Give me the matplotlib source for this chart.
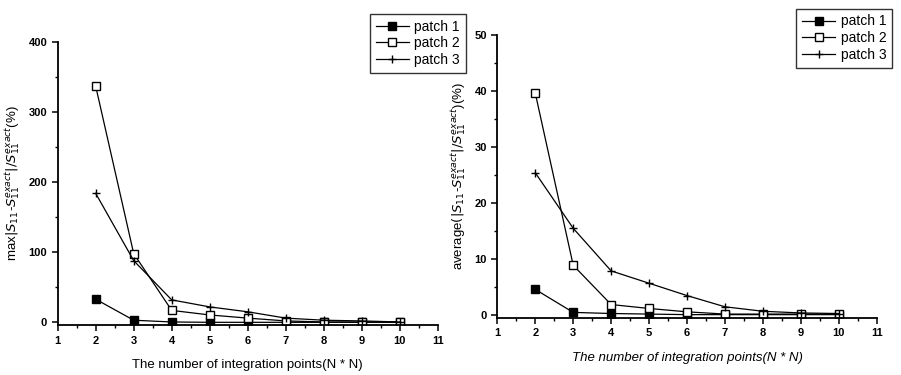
import matplotlib.pyplot as plt
from matplotlib.ticker import MultipleLocator

## data
n_points = [2, 3, 4, 5, 6, 7, 8, 9, 10]

# max relative error (%)
max_p1 = [33, 3, 0.5, 0, 0, 0, 0, 0, 0]
max_p2 = [337, 98, 17, 10.5, 6, 2, 0.5, 0.5, 0.5]
max_p3 = [184, 88, 32, 22, 15, 6, 3, 2, 0.5]

# average relative error (%)
avg_p1 = [4.6, 0.5, 0.3, 0.2, 0.1, 0.1, 0.1, 0.1, 0.1]
avg_p2 = [39.6, 8.9, 1.9, 1.2, 0.6, 0.2, 0.2, 0.2, 0.2]
avg_p3 = [25.4, 15.5, 7.9, 5.7, 3.5, 1.5, 0.7, 0.4, 0.3]

labels = ['patch 1', 'patch 2', 'patch 3']
xticks = list(range(1, 12))

plt.rcParams['font.family'] = ['Liberation Sans', 'DejaVu Sans']

fig = plt.figure(figsize=(9.01, 3.75), dpi=100)
ax1 = fig.add_axes([0.064, 0.133, 0.422, 0.755])
ax2 = fig.add_axes([0.552, 0.152, 0.421, 0.755])

styles = [dict(marker='s', mfc='black', mec='black', ms=5.5),
          dict(marker='s', mfc='white', mec='black', ms=6),
          dict(marker='+', mec='black', ms=6)]

def draw(ax, series, ymax, ymin, ystep, ylabel, xlabel_style):
    for vals, lab, st in zip(series, labels, styles):
        ax.plot(n_points, vals, color='black', lw=0.9, label=lab, **st)
    ax.set_xlim(1, 11)
    ax.set_ylim(ymin, ymax)
    ax.set_xticks(xticks)
    ax.xaxis.set_minor_locator(MultipleLocator(0.5))
    ax.yaxis.set_major_locator(MultipleLocator(ystep))
    ax.yaxis.set_minor_locator(MultipleLocator(ystep / 2))
    ax.spines['top'].set_visible(False)
    ax.spines['right'].set_visible(False)
    ax.spines['left'].set_linewidth(1.3)
    ax.spines['bottom'].set_linewidth(1.3)
    ax.tick_params(which='major', length=4, width=1.1, labelsize=8)
    ax.tick_params(which='minor', length=2.5, width=1)
    for t in ax.get_xticklabels() + ax.get_yticklabels():
        t.set_fontweight('bold')
    ax.set_ylabel(ylabel, fontsize=9.5)
    ax.set_xlabel('The number of integration points(N * N)', fontsize=9.5,
                  style=xlabel_style, labelpad=10)
    return ax

draw(ax1, [max_p1, max_p2, max_p3], 400, -4, 100,
     r'max$|S_{11}$-$S_{11}^{exact}|/S_{11}^{exact}$(%)', 'normal')
draw(ax2, [avg_p1, avg_p2, avg_p3], 50, -0.5, 10,
     r'average$(|S_{11}$-$S_{11}^{exact}|/S_{11}^{exact}$)(%)', 'italic')

leg_kw = dict(fontsize=10, frameon=True, fancybox=False,
              edgecolor='black', handlelength=2.4, borderpad=0.4,
              labelspacing=0.2, handletextpad=0.4)
l1 = ax1.legend(loc='upper left', bbox_to_anchor=(363 / 901, 1 - 7 / 375),
                bbox_transform=fig.transFigure, **leg_kw)
l2 = ax2.legend(loc='upper right', bbox_to_anchor=(899 / 901, 1 - 2 / 375),
                bbox_transform=fig.transFigure, **leg_kw)
for l in (l1, l2):
    l.get_frame().set_linewidth(1.0)

fig.savefig('out.png', dpi=100)
